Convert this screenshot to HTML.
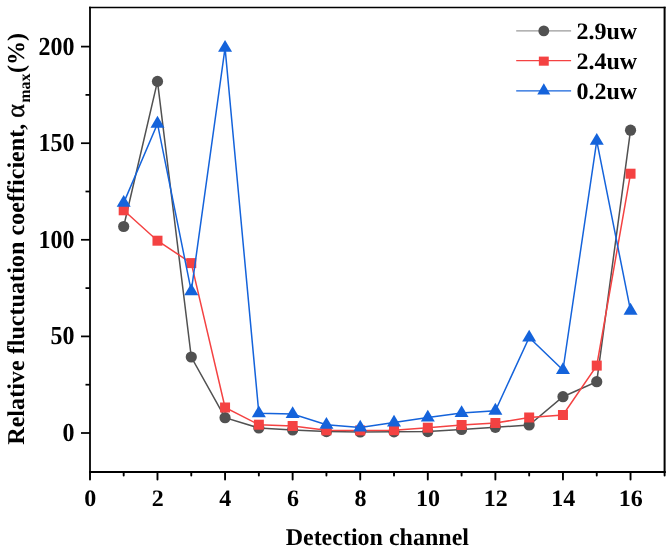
<!DOCTYPE html>
<html><head><meta charset="utf-8"><style>
html,body{margin:0;padding:0;background:#fff;}
body{width:671px;height:551px;overflow:hidden;}
svg{display:block;will-change:transform;}
.t{text-rendering:geometricPrecision;font-family:"Liberation Serif",serif;font-weight:bold;font-size:24px;fill:#000;}
.sub{font-size:16px;}
</style></head><body>
<svg width="671" height="551" viewBox="0 0 671 551">
<line x1="90" y1="6.75" x2="90" y2="473" stroke="#1a1a1a" stroke-width="2"/>
<line x1="664.6" y1="6.75" x2="664.6" y2="473" stroke="#000" stroke-width="2"/>
<line x1="89" y1="7.5" x2="665.6" y2="7.5" stroke="#000" stroke-width="1.5"/>
<line x1="89" y1="472" x2="665.6" y2="472" stroke="#000" stroke-width="2"/>
<line x1="81" y1="433.00" x2="90" y2="433.00" stroke="#000" stroke-width="1.75"/>
<line x1="81" y1="336.40" x2="90" y2="336.40" stroke="#000" stroke-width="1.75"/>
<line x1="81" y1="239.80" x2="90" y2="239.80" stroke="#000" stroke-width="1.75"/>
<line x1="81" y1="143.20" x2="90" y2="143.20" stroke="#000" stroke-width="1.75"/>
<line x1="81" y1="46.60" x2="90" y2="46.60" stroke="#000" stroke-width="1.75"/>
<line x1="85.5" y1="384.70" x2="90" y2="384.70" stroke="#000" stroke-width="1.75"/>
<line x1="85.5" y1="288.10" x2="90" y2="288.10" stroke="#000" stroke-width="1.75"/>
<line x1="85.5" y1="191.50" x2="90" y2="191.50" stroke="#000" stroke-width="1.75"/>
<line x1="85.5" y1="94.90" x2="90" y2="94.90" stroke="#000" stroke-width="1.75"/>
<line x1="90.00" y1="472" x2="90.00" y2="479.6" stroke="#000" stroke-width="1.9" stroke-linecap="round"/>
<line x1="123.69" y1="472" x2="123.69" y2="475.6" stroke="#000" stroke-width="1.9" stroke-linecap="round"/>
<line x1="157.48" y1="472" x2="157.48" y2="479.6" stroke="#000" stroke-width="1.9" stroke-linecap="round"/>
<line x1="191.27" y1="472" x2="191.27" y2="475.6" stroke="#000" stroke-width="1.9" stroke-linecap="round"/>
<line x1="225.06" y1="472" x2="225.06" y2="479.6" stroke="#000" stroke-width="1.9" stroke-linecap="round"/>
<line x1="258.85" y1="472" x2="258.85" y2="475.6" stroke="#000" stroke-width="1.9" stroke-linecap="round"/>
<line x1="292.64" y1="472" x2="292.64" y2="479.6" stroke="#000" stroke-width="1.9" stroke-linecap="round"/>
<line x1="326.43" y1="472" x2="326.43" y2="475.6" stroke="#000" stroke-width="1.9" stroke-linecap="round"/>
<line x1="360.22" y1="472" x2="360.22" y2="479.6" stroke="#000" stroke-width="1.9" stroke-linecap="round"/>
<line x1="394.01" y1="472" x2="394.01" y2="475.6" stroke="#000" stroke-width="1.9" stroke-linecap="round"/>
<line x1="427.80" y1="472" x2="427.80" y2="479.6" stroke="#000" stroke-width="1.9" stroke-linecap="round"/>
<line x1="461.59" y1="472" x2="461.59" y2="475.6" stroke="#000" stroke-width="1.9" stroke-linecap="round"/>
<line x1="495.38" y1="472" x2="495.38" y2="479.6" stroke="#000" stroke-width="1.9" stroke-linecap="round"/>
<line x1="529.17" y1="472" x2="529.17" y2="475.6" stroke="#000" stroke-width="1.9" stroke-linecap="round"/>
<line x1="562.96" y1="472" x2="562.96" y2="479.6" stroke="#000" stroke-width="1.9" stroke-linecap="round"/>
<line x1="596.75" y1="472" x2="596.75" y2="475.6" stroke="#000" stroke-width="1.9" stroke-linecap="round"/>
<line x1="630.54" y1="472" x2="630.54" y2="479.6" stroke="#000" stroke-width="1.9" stroke-linecap="round"/>
<line x1="664.60" y1="472" x2="664.60" y2="475.6" stroke="#000" stroke-width="1.9" stroke-linecap="round"/>
<text transform="translate(74.5,440.90) scale(1,1.08)" text-anchor="end" class="t">0</text>
<text transform="translate(74.5,344.30) scale(1,1.08)" text-anchor="end" class="t">50</text>
<text transform="translate(74.5,247.70) scale(1,1.08)" text-anchor="end" class="t">100</text>
<text transform="translate(74.5,151.10) scale(1,1.08)" text-anchor="end" class="t">150</text>
<text transform="translate(74.5,54.50) scale(1,1.08)" text-anchor="end" class="t">200</text>
<text transform="translate(90.30,505.5) scale(1,0.98)" text-anchor="middle" class="t">0</text>
<text transform="translate(157.78,505.5) scale(1,0.98)" text-anchor="middle" class="t">2</text>
<text transform="translate(225.36,505.5) scale(1,0.98)" text-anchor="middle" class="t">4</text>
<text transform="translate(292.94,505.5) scale(1,0.98)" text-anchor="middle" class="t">6</text>
<text transform="translate(360.52,505.5) scale(1,0.98)" text-anchor="middle" class="t">8</text>
<text transform="translate(428.10,505.5) scale(1,0.98)" text-anchor="middle" class="t">10</text>
<text transform="translate(495.68,505.5) scale(1,0.98)" text-anchor="middle" class="t">12</text>
<text transform="translate(563.26,505.5) scale(1,0.98)" text-anchor="middle" class="t">14</text>
<text transform="translate(630.84,505.5) scale(1,0.98)" text-anchor="middle" class="t">16</text>
<polyline points="123.69,226.50 157.48,81.40 191.27,357.00 225.06,417.70 258.85,428.00 292.64,430.00 326.43,431.60 360.22,432.00 394.01,431.80 427.80,431.60 461.59,429.50 495.38,427.30 529.17,425.00 562.96,396.70 596.75,381.70 630.54,130.20" fill="none" stroke="#515151" stroke-width="1.5"/>
<circle cx="123.69" cy="226.50" r="5.6" fill="#515151"/>
<circle cx="157.48" cy="81.40" r="5.6" fill="#515151"/>
<circle cx="191.27" cy="357.00" r="5.6" fill="#515151"/>
<circle cx="225.06" cy="417.70" r="5.6" fill="#515151"/>
<circle cx="258.85" cy="428.00" r="5.6" fill="#515151"/>
<circle cx="292.64" cy="430.00" r="5.6" fill="#515151"/>
<circle cx="326.43" cy="431.60" r="5.6" fill="#515151"/>
<circle cx="360.22" cy="432.00" r="5.6" fill="#515151"/>
<circle cx="394.01" cy="431.80" r="5.6" fill="#515151"/>
<circle cx="427.80" cy="431.60" r="5.6" fill="#515151"/>
<circle cx="461.59" cy="429.50" r="5.6" fill="#515151"/>
<circle cx="495.38" cy="427.30" r="5.6" fill="#515151"/>
<circle cx="529.17" cy="425.00" r="5.6" fill="#515151"/>
<circle cx="562.96" cy="396.70" r="5.6" fill="#515151"/>
<circle cx="596.75" cy="381.70" r="5.6" fill="#515151"/>
<circle cx="630.54" cy="130.20" r="5.6" fill="#515151"/>
<polyline points="123.69,210.30 157.48,240.70 191.27,263.10 225.06,407.50 258.85,424.70 292.64,426.00 326.43,430.30 360.22,430.40 394.01,430.20 427.80,427.70 461.59,425.00 495.38,423.00 529.17,417.50 562.96,415.00 596.75,365.60 630.54,173.70" fill="none" stroke="#F44242" stroke-width="1.5"/>
<rect x="118.69" y="205.30" width="10" height="10" fill="#F44242"/>
<rect x="152.48" y="235.70" width="10" height="10" fill="#F44242"/>
<rect x="186.27" y="258.10" width="10" height="10" fill="#F44242"/>
<rect x="220.06" y="402.50" width="10" height="10" fill="#F44242"/>
<rect x="253.85" y="419.70" width="10" height="10" fill="#F44242"/>
<rect x="287.64" y="421.00" width="10" height="10" fill="#F44242"/>
<rect x="321.43" y="425.30" width="10" height="10" fill="#F44242"/>
<rect x="355.22" y="425.40" width="10" height="10" fill="#F44242"/>
<rect x="389.01" y="425.20" width="10" height="10" fill="#F44242"/>
<rect x="422.80" y="422.70" width="10" height="10" fill="#F44242"/>
<rect x="456.59" y="420.00" width="10" height="10" fill="#F44242"/>
<rect x="490.38" y="418.00" width="10" height="10" fill="#F44242"/>
<rect x="524.17" y="412.50" width="10" height="10" fill="#F44242"/>
<rect x="557.96" y="410.00" width="10" height="10" fill="#F44242"/>
<rect x="591.75" y="360.60" width="10" height="10" fill="#F44242"/>
<rect x="625.54" y="168.70" width="10" height="10" fill="#F44242"/>
<polyline points="123.69,202.90 157.48,123.70 191.27,291.20 225.06,47.90 258.85,413.30 292.64,414.00 326.43,424.80 360.22,427.60 394.01,422.60 427.80,417.50 461.59,413.10 495.38,410.70 529.17,337.50 562.96,370.00 596.75,140.90 630.54,310.70" fill="none" stroke="#1463DB" stroke-width="1.5"/>
<polygon points="123.69,195.03 116.69,206.83 130.69,206.83" fill="#1463DB"/>
<polygon points="157.48,115.83 150.48,127.63 164.48,127.63" fill="#1463DB"/>
<polygon points="191.27,283.33 184.27,295.13 198.27,295.13" fill="#1463DB"/>
<polygon points="225.06,40.03 218.06,51.83 232.06,51.83" fill="#1463DB"/>
<polygon points="258.85,405.43 251.85,417.23 265.85,417.23" fill="#1463DB"/>
<polygon points="292.64,406.13 285.64,417.93 299.64,417.93" fill="#1463DB"/>
<polygon points="326.43,416.93 319.43,428.73 333.43,428.73" fill="#1463DB"/>
<polygon points="360.22,419.73 353.22,431.53 367.22,431.53" fill="#1463DB"/>
<polygon points="394.01,414.73 387.01,426.53 401.01,426.53" fill="#1463DB"/>
<polygon points="427.80,409.63 420.80,421.43 434.80,421.43" fill="#1463DB"/>
<polygon points="461.59,405.23 454.59,417.03 468.59,417.03" fill="#1463DB"/>
<polygon points="495.38,402.83 488.38,414.63 502.38,414.63" fill="#1463DB"/>
<polygon points="529.17,329.63 522.17,341.43 536.17,341.43" fill="#1463DB"/>
<polygon points="562.96,362.13 555.96,373.93 569.96,373.93" fill="#1463DB"/>
<polygon points="596.75,133.03 589.75,144.83 603.75,144.83" fill="#1463DB"/>
<polygon points="630.54,302.83 623.54,314.63 637.54,314.63" fill="#1463DB"/>
<line x1="516.2" y1="30.9" x2="571.1" y2="30.9" stroke="#9a9a9a" stroke-width="1.3"/>
<circle cx="543.8" cy="30.9" r="5.4" fill="#515151"/>
<text transform="translate(576.5,39.00) scale(1,0.98)" class="t">2.9<tspan fill="transparent">uw</tspan></text>
<text x="576.5" y="39.00" class="t"><tspan fill="transparent">2.9</tspan>uw</text>
<line x1="516.2" y1="60.6" x2="571.1" y2="60.6" stroke="#F44242" stroke-width="1.3"/>
<rect x="538.8499999999999" y="56.6" width="9.9" height="9.1" fill="#F44242"/>
<text transform="translate(576.5,68.70) scale(1,0.98)" class="t">2.4<tspan fill="transparent">uw</tspan></text>
<text x="576.5" y="68.70" class="t"><tspan fill="transparent">2.4</tspan>uw</text>
<line x1="516.2" y1="90.9" x2="571.1" y2="90.9" stroke="#1463DB" stroke-width="1.3"/>
<polygon points="543.8,83.2 537.3,94.6 550.3,94.6" fill="#1463DB"/>
<text transform="translate(576.5,99.00) scale(1,0.98)" class="t">0.2<tspan fill="transparent">uw</tspan></text>
<text x="576.5" y="99.00" class="t"><tspan fill="transparent">0.2</tspan>uw</text>
<text x="377.3" y="544.6" text-anchor="middle" class="t">Detection channel</text>
<text transform="translate(23.6,444.8) rotate(-90)" class="t" style="font-size:24.15px">Relative fluctuation coefficient, <tspan font-weight="normal" style="font-size:26px;stroke:#000;stroke-width:0.4px">α</tspan><tspan class="sub" dx="1.3" dy="6">max</tspan><tspan dx="0.3" dy="-6">(%)</tspan></text>
</svg>
</body></html>
